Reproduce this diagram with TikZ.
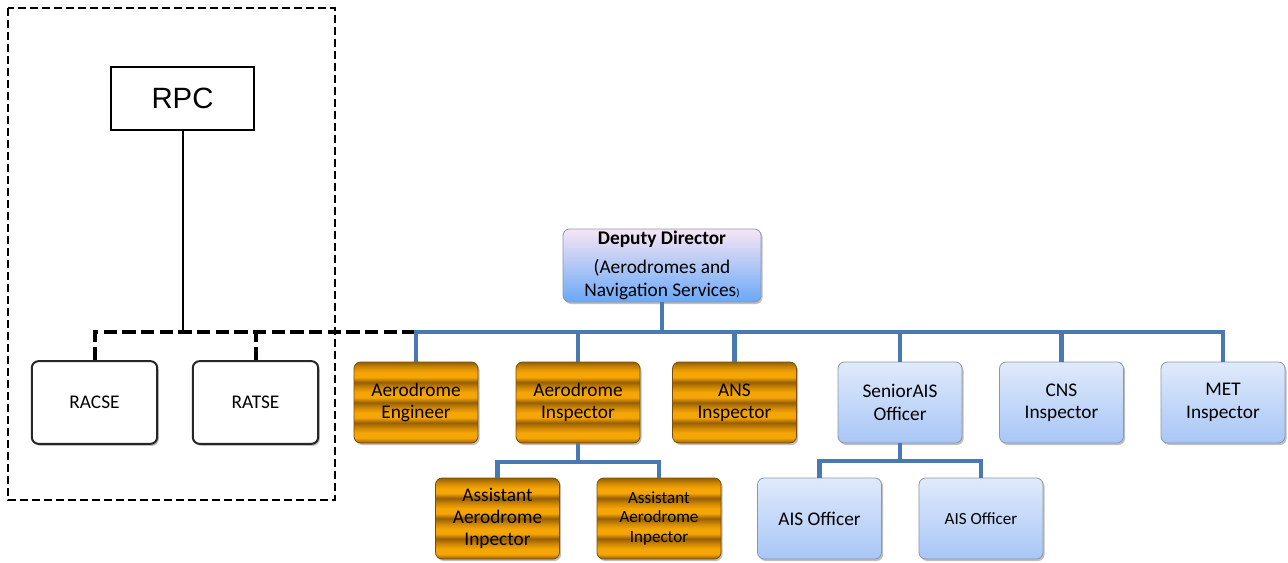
\documentclass[tikz,border=0pt]{standalone}
\usepackage{fontspec}
\setmainfont{Carlito}
\newfontfamily\arialf{Liberation Sans}
\usetikzlibrary{shadows}
\definecolor{brdk}{RGB}{150,95,5}
\definecolor{brmd}{RGB}{205,135,5}
\definecolor{brlt}{RGB}{245,165,5}
\definecolor{lnblue}{RGB}{74,120,176}
\definecolor{bxtop}{RGB}{224,234,251}
\definecolor{bxbot}{RGB}{168,198,246}
\definecolor{bxedge}{RGB}{140,150,170}
\definecolor{dptop}{RGB}{247,230,244}
\definecolor{dpbot}{RGB}{106,168,247}
\pgfdeclareverticalshading{brass}{100bp}{color(0bp)=(brdk); color(25bp)=(brdk);
 color(28.1bp)=(brlt); color(31.25bp)=(brlt); color(34.4bp)=(brmd); color(37.5bp)=(brdk);
 color(40.6bp)=(brlt); color(43.75bp)=(brlt); color(46.9bp)=(brmd); color(50bp)=(brdk);
 color(53.1bp)=(brlt); color(56.25bp)=(brlt); color(59.4bp)=(brmd); color(62.5bp)=(brdk);
 color(65.6bp)=(brlt); color(68.75bp)=(brlt); color(71.9bp)=(brmd); color(75bp)=(brdk);
 color(100bp)=(brdk)}
\tikzset{
  shad/.style={drop shadow={shadow xshift=1.2pt, shadow yshift=-1.5pt, opacity=0.25, fill=black}},
  base/.style={shad, rounded corners=5pt, minimum width=93pt, minimum height=60.75pt, align=center,
    inner sep=1pt, font=\fontsize{14.5}{16.8}\selectfont},
  orangebox/.style={base, shading=brass, draw=brdk!80!black, line width=0.6pt},
  bluebox/.style={base, top color=bxtop, bottom color=bxbot, draw=bxedge, line width=0.6pt},
  whitebox/.style={base, fill=white, draw=black!85, line width=1.5pt, minimum width=94pt, minimum height=62pt},
  depbox/.style={shad, rounded corners=5pt, minimum width=148.5pt, minimum height=54.75pt, align=center,
    inner sep=1pt, top color=dptop, bottom color=dpbot, draw=bxedge, line width=0.6pt,
    font=\fontsize{14.5}{16.8}\selectfont},
  blueline/.style={draw=lnblue, line width=3.2pt, line join=miter},
  blackdash/.style={draw=black, line width=3pt, dash pattern=on 10pt off 4pt},
  boxdash/.style={draw=black, line width=1pt, dash pattern=on 6pt off 3pt},
  smallfont/.style={font=\fontsize{12.8}{14.8}\selectfont}
}
\begin{document}
\begin{tikzpicture}[x=0.75pt,y=-0.75pt]
\useasboundingbox (0,0) rectangle (1288,563);
% outer dashed frame
\draw[boxdash] (8,8) rectangle (335,500);
% RPC
\node[draw=black, line width=1.2pt, fill=white, minimum width=107.25pt, minimum height=47.25pt,
  font=\arialf\fontsize{22}{24}\selectfont] (rpc) at (182.5,98.5) {RPC};
% bus coordinates
\coordinate (bus) at (661,332);
\coordinate (j1) at (578,462);
\coordinate (j2) at (900,461);
% nodes
\node[whitebox] (racse) at (94.5,402.5) {RACSE};
\node[whitebox] (ratse) at (255.5,402.5) {RATSE};
\node[depbox] (dep) at (662,265.5) {\textbf{Deputy Director}\\[5pt](Aerodromes and\\Navigation Services{\footnotesize)}};
\node[orangebox] (ae) at (416,402.5) {Aerodrome\\Engineer};
\node[orangebox] (ai) at (578,402.5) {Aerodrome\\Inspector};
\node[orangebox] (ans) at (734.5,402.5) {ANS\\Inspector};
\node[bluebox] (sais) at (900,402.5) {SeniorAIS\\Officer};
\node[bluebox] (cns) at (1061.5,402.5) {CNS\\Inspector};
\node[bluebox] (met) at (1223,402.5) {MET\\Inspector};
\node[orangebox] (as1) at (497.5,518.5) {Assistant\\Aerodrome\\Inpector};
\node[orangebox, smallfont] (as2) at (659,518.5) {Assistant\\Aerodrome\\Inpector};
\node[bluebox] (ais1) at (819.5,518.5) {AIS Officer};
\node[bluebox, smallfont] (ais2) at (981,518.5) {AIS Officer};
% black connectors
\draw[line width=1.5pt] (rpc.south) -- (rpc.south |- bus);
\draw[blackdash] (racse.north) -- (racse.north |- bus) -- (ae.north |- bus);
\draw[blackdash] (ratse.north) -- (ratse.north |- bus);
% blue connectors
\draw[blueline] (dep.south) -- (dep.south |- bus);
\draw[blueline] (ae.north) -- (ae.north |- bus) -- (met.north |- bus) -- (met.north);
\foreach \n in {ai,ans,sais,cns} \draw[blueline] (\n.north) -- (\n.north |- bus);
\draw[blueline] (ai.south) -- (j1);
\draw[blueline] (as1.north) -- (as1.north |- j1) -- (as2.north |- j1) -- (as2.north);
\draw[blueline] (sais.south) -- (j2);
\draw[blueline] (ais1.north) -- (ais1.north |- j2) -- (ais2.north |- j2) -- (ais2.north);
\end{tikzpicture}
\end{document}
